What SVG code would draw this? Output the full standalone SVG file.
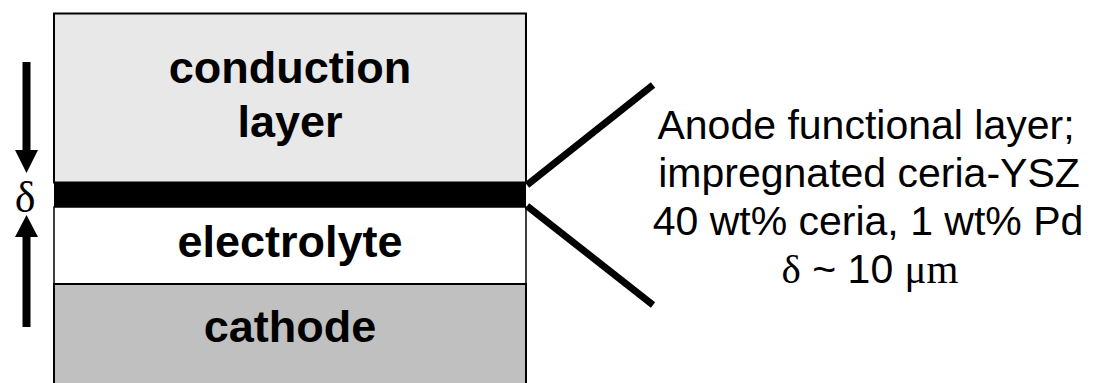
<svg xmlns="http://www.w3.org/2000/svg" width="1096" height="383" viewBox="0 0 1096 383">
<style>
.lbl{font-family:"Liberation Sans",Arial,sans-serif;font-weight:bold;font-size:45px;fill:#000;text-anchor:middle}
.note{font-family:"Liberation Sans",Arial,sans-serif;font-size:41px;fill:#000;text-anchor:middle}
.greek{font-family:"Liberation Serif","Times New Roman",serif}
.conn{stroke:#000;stroke-width:7;fill:none}
</style>
<rect width="1096" height="383" fill="#fff"/>
<g id="conduction-layer">
<rect x="54" y="13.5" width="472" height="169" fill="#e8e8e8" stroke="#000" stroke-width="2"/>
<text class="lbl" x="290" y="83">conduction</text>
<text class="lbl" x="290" y="137">layer</text>
</g>
<g id="functional-layer">
<rect x="54" y="182" width="472" height="25" fill="#000"/>
</g>
<g id="electrolyte">
<rect x="54" y="207" width="472" height="77" fill="#fff" stroke="#000" stroke-width="1.5"/>
<text class="lbl" x="290" y="257">electrolyte</text>
</g>
<g id="cathode">
<rect x="54" y="284" width="472" height="110" fill="#c0c0c0" stroke="#000" stroke-width="2"/>
<text class="lbl" x="290" y="342">cathode</text>
</g>
<g id="delta-marker">
<line x1="26.5" y1="62" x2="26.5" y2="152" stroke="#000" stroke-width="8"/>
<polygon points="15,150 38,150 26.5,173" fill="#000"/>
<line x1="26.5" y1="235" x2="26.5" y2="327" stroke="#000" stroke-width="8"/>
<polygon points="15,237 38,237 26.5,215" fill="#000"/>
<text class="greek" x="25" y="212" font-size="44" text-anchor="middle">δ</text>
</g>
<g id="connectors">
<line class="conn" x1="527" y1="185" x2="653" y2="85"/>
<line class="conn" x1="527" y1="206" x2="653" y2="305"/>
</g>
<g id="annotation">
<text class="note" x="866" y="139">Anode functional layer;</text>
<text class="note" x="869" y="187">impregnated ceria-YSZ</text>
<text class="note" x="868" y="235">40 wt% ceria, 1 wt% Pd</text>
<text class="note" x="870" y="283"><tspan class="greek">δ</tspan> ~ 10 <tspan class="greek">μm</tspan></text>
</g>
</svg>
